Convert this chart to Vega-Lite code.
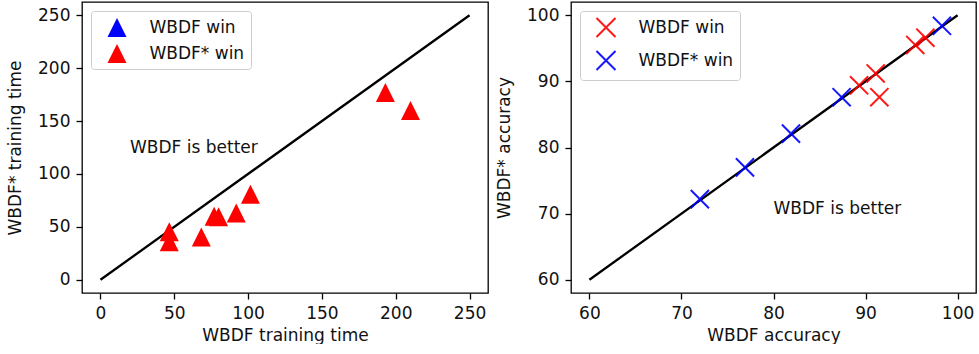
{
  "$schema": "https://vega.github.io/schema/vega-lite/v6.json",
  "padding": {"top": 1, "left": 5, "right": 2, "bottom": 0},
  "spacing": 5,
  "datasets": {
    "timeLine": [{"x": 0, "y": 0}, {"x": 250, "y": 250}],
    "timePts": [
      {"x": 193, "y": 177, "winner": "WBDF* win"},
      {"x": 210, "y": 160, "winner": "WBDF* win"},
      {"x": 101.6, "y": 80.8, "winner": "WBDF* win"},
      {"x": 92, "y": 63, "winner": "WBDF* win"},
      {"x": 77, "y": 60, "winner": "WBDF* win"},
      {"x": 80, "y": 59.5, "winner": "WBDF* win"},
      {"x": 68.3, "y": 40.4, "winner": "WBDF* win"},
      {"x": 46.6, "y": 45.5, "winner": "WBDF* win"},
      {"x": 46.6, "y": 36, "winner": "WBDF* win"}
    ],
    "timeNote": [{"x": 20, "y": 120, "label": "WBDF is better"}],
    "accLine": [{"x": 60, "y": 60}, {"x": 100, "y": 100}],
    "accPts": [
      {"x": 72.0, "y": 72.2, "winner": "WBDF* win"},
      {"x": 76.9, "y": 77.0, "winner": "WBDF* win"},
      {"x": 81.9, "y": 82.1, "winner": "WBDF* win"},
      {"x": 87.4, "y": 87.6, "winner": "WBDF* win"},
      {"x": 98.3, "y": 98.4, "winner": "WBDF* win"},
      {"x": 89.3, "y": 89.4, "winner": "WBDF win"},
      {"x": 91.1, "y": 91.2, "winner": "WBDF win"},
      {"x": 91.5, "y": 87.6, "winner": "WBDF win"},
      {"x": 95.4, "y": 95.5, "winner": "WBDF win"},
      {"x": 96.5, "y": 96.6, "winner": "WBDF win"}
    ],
    "accNote": [{"x": 80, "y": 70, "label": "WBDF is better"}]
  },
  "config": {
    "font": "DejaVu Sans",
    "view": {"stroke": "black", "strokeWidth": 1.3},
    "axis": {
      "grid": false, "domain": false,
      "tickColor": "black", "tickSize": 6, "tickWidth": 1.3,
      "labelFont": "DejaVu Sans", "labelFontSize": 17, "labelColor": "#111111", "labelPadding": 6,
      "titleFont": "DejaVu Sans", "titleFontSize": 17, "titleFontWeight": "normal", "titleColor": "#111111"
    },
    "axisY": {"titlePadding": 13},
    "axisX": {"titlePadding": 6},
    "legend": {
      "orient": "none", "legendX": 9, "legendY": 9,
      "title": null,
      "padding": 6, "rowPadding": 6,
      "strokeColor": "#cccccc", "fillColor": "rgba(255,255,255,0.8)", "cornerRadius": 3,
      "labelFont": "DejaVu Sans", "labelFontSize": 17, "labelColor": "#111111",
      "symbolOffset": 9.5, "labelOffset": 22, "symbolSize": 361
    }
  },
  "resolve": {"scale": {"color": "independent"}, "legend": {"color": "independent"}},
  "hconcat": [
    {
      "width": 406, "height": 291,
      "encoding": {
        "x": {"field": "x", "type": "quantitative", "scale": {"domain": [-12.5, 262.5], "nice": false, "zero": false}, "axis": {"values": [0, 50, 100, 150, 200, 250], "title": "WBDF training time"}},
        "y": {"field": "y", "type": "quantitative", "scale": {"domain": [-12.5, 262.5], "nice": false, "zero": false}, "axis": {"values": [0, 50, 100, 150, 200, 250], "title": "WBDF* training time"}}
      },
      "layer": [
        {"data": {"name": "timeLine"}, "mark": {"type": "line", "color": "black", "strokeWidth": 2.3}},
        {"data": {"name": "timePts"},
         "mark": {"type": "point", "shape": "M0,-1L-1,1L1,1Z", "filled": true, "size": 361, "opacity": 1},
         "encoding": {"color": {"field": "winner", "type": "nominal", "scale": {"domain": ["WBDF win", "WBDF* win"], "range": ["#0000ff", "#ff0000"]}, "legend": {"symbolType": "M0,-1L-1,1L1,1Z", "symbolOpacity": 1}}}},
        {"data": {"name": "timeNote"}, "mark": {"type": "text", "align": "left", "baseline": "alphabetic", "fontSize": 17, "color": "#111111"}, "encoding": {"text": {"field": "label"}}}
      ]
    },
    {
      "width": 405, "height": 291,
      "encoding": {
        "x": {"field": "x", "type": "quantitative", "scale": {"domain": [58, 102], "nice": false, "zero": false}, "axis": {"values": [60, 70, 80, 90, 100], "title": "WBDF accuracy"}},
        "y": {"field": "y", "type": "quantitative", "scale": {"domain": [58, 102], "nice": false, "zero": false}, "axis": {"values": [60, 70, 80, 90, 100], "title": "WBDF* accuracy"}}
      },
      "layer": [
        {"data": {"name": "accLine"}, "mark": {"type": "line", "color": "black", "strokeWidth": 2.3}},
        {"data": {"name": "accPts"},
         "mark": {"type": "point", "shape": "M-1,-1L1,1M-1,1L1,-1", "filled": false, "size": 330, "strokeWidth": 2, "opacity": 0.9},
         "encoding": {"color": {"field": "winner", "type": "nominal", "scale": {"domain": ["WBDF win", "WBDF* win"], "range": ["#ff0000", "#0000ff"]}, "legend": {"symbolType": "M-1,-1L1,1M-1,1L1,-1", "symbolStrokeWidth": 2, "symbolFillColor": "transparent"}}}},
        {"data": {"name": "accNote"}, "mark": {"type": "text", "align": "left", "baseline": "alphabetic", "fontSize": 17, "color": "#111111"}, "encoding": {"text": {"field": "label"}}}
      ]
    }
  ]
}
